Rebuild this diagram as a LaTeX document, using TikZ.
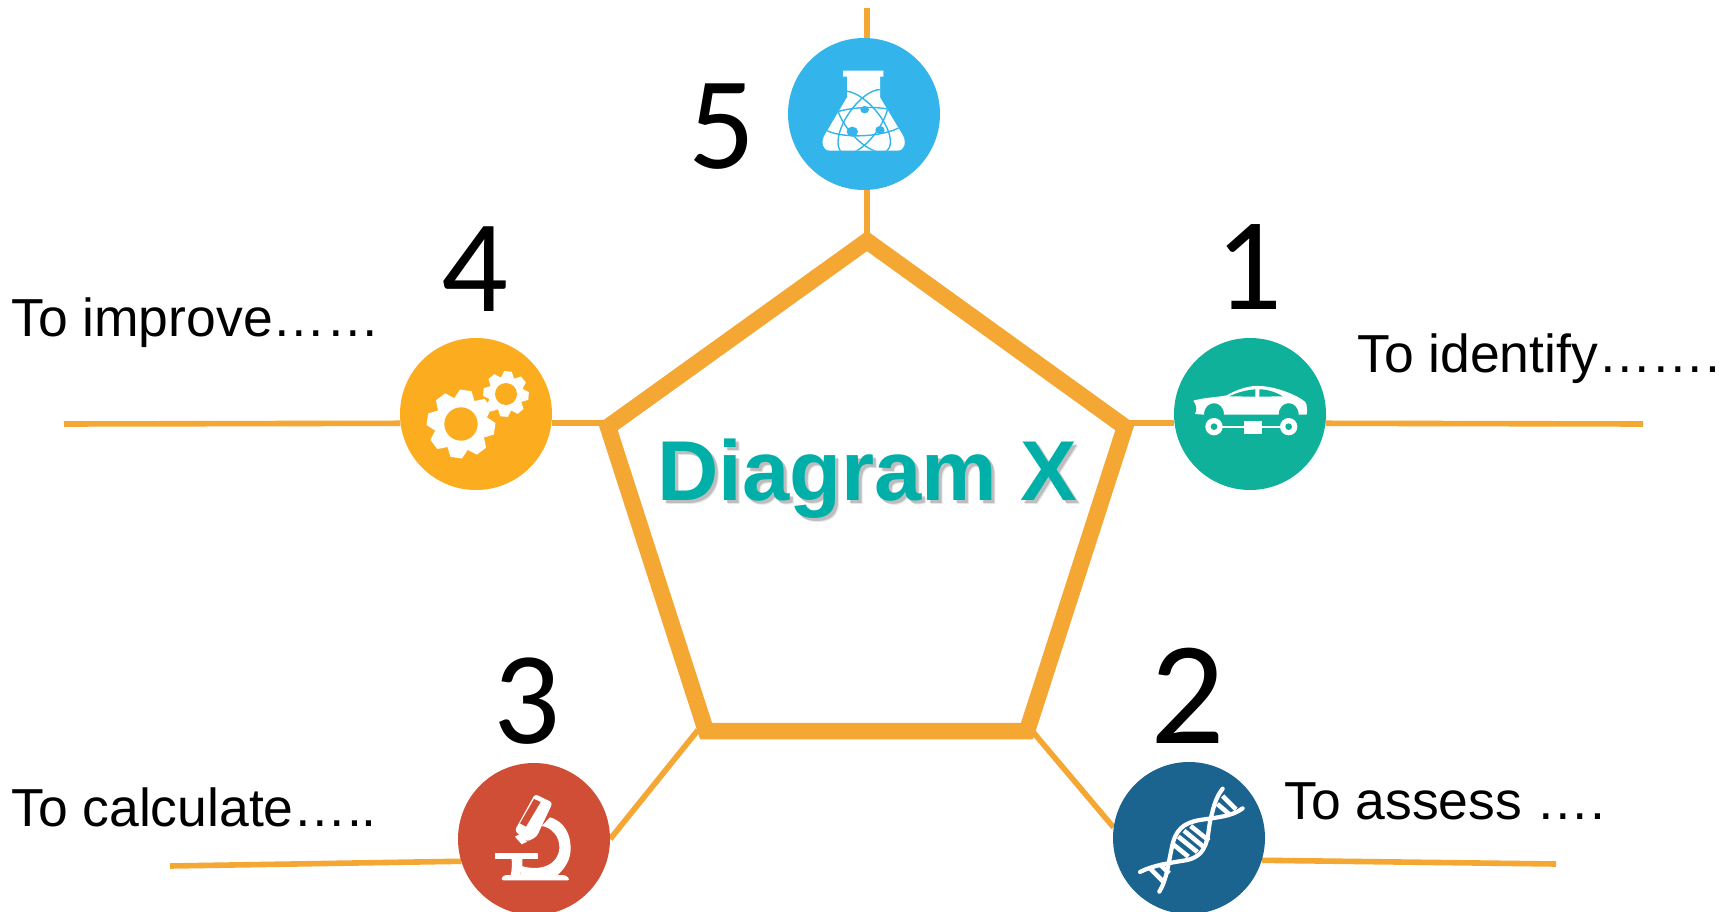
\documentclass[tikz,border=0pt]{standalone}
\usepackage{fontspec}
\setmainfont{Liberation Sans}
\newfontfamily\numfont{Carlito}
\usetikzlibrary{backgrounds}
\definecolor{lineorange}{HTML}{F5A733}
\definecolor{flaskblue}{HTML}{33B5EB}
\definecolor{cargreen}{HTML}{10B19A}
\definecolor{gearorange}{HTML}{FBAC1F}
\definecolor{microred}{HTML}{D04E36}
\definecolor{dnablue}{HTML}{1B648F}
\definecolor{titleteal}{HTML}{00B0A8}
\newcommand{\mygear}[7]{%
  \fill[white] (#1,#2) circle (#3);
  \foreach \k in {0,...,7}{
    \fill[white,shift={(#1,#2)},rotate=-#6-45*\k]
      (#3-6,-#4*0.30) -- (#4,-#4*0.17) -- (#4,#4*0.17) -- (#3-6,#4*0.30) -- cycle;
  }
  \fill[#7] (#1,#2) circle (#5);
}
\tikzset{
  x=1pt,y=-1pt,
  badge/.style={circle,minimum size=152pt,inner sep=0pt,fill=#1},
  conn/.style={draw=lineorange,line width=5.6pt},
  penta/.style={draw=lineorange,line width=16.5pt,line join=miter,miter limit=10},
  numlabel/.style={anchor=base,inner sep=0pt,text=black},
  textlabel/.style={anchor=base west,inner sep=0pt,text=black,font=\fontsize{53.5}{60}\selectfont},
  titletext/.style={anchor=base west,inner sep=0pt,font=\fontsize{85}{90}\selectfont\bfseries},
  orbit/.style={draw=flaskblue,line width=1.4pt},
  dnastrand/.style={draw=white,line width=4.2pt,line cap=round},
  dnarung/.style={draw=white,line width=4.6pt},
}
\begin{document}
\begin{tikzpicture}
\useasboundingbox (0,0) rectangle (1735,912);
% named points
\coordinate (v1) at (867,241);
\coordinate (v2) at (1125,427);
\coordinate (v3) at (1027,731);
\coordinate (v4) at (706,731);
\coordinate (v5) at (608,427);
\coordinate (t5) at (867,8);
\coordinate (e1) at (1643,424);
\coordinate (e4) at (64,424);
\coordinate (e2) at (1556,864);
\coordinate (e3) at (170,866);
\coordinate (d3) at (698,730);
\coordinate (d2) at (1033,732);
% badges
\node[badge=cargreen] (c1) at (1250,414) {};
\node[badge=dnablue] (c2) at (1189,838) {};
\node[badge=microred] (c3) at (534,839) {};
\node[badge=gearorange] (c4) at (476,414) {};
\node[badge=flaskblue] (c5) at (864,114) {};
% connectors
\begin{scope}[on background layer]
\draw[conn] (t5) -- (v1);
\draw[conn] (e1) -- (c1.-7.6);
\draw[conn] (c1.187.6) -- (v2 |- c1.187.6);
\draw[conn] (e4) -- (c4.187.6);
\draw[conn] (c4.-7.6) -- (v5 |- c4.-7.6);
\draw[conn] (e3) -- (c3.197);
\draw[conn] (d3) -- (c3.east);
\draw[conn] (e2) -- (c2.-17);
\draw[conn] (d2) -- (c2.172);
\end{scope}
\draw[penta] (v1) -- (v2) -- (v3) -- (v4) -- (v5) -- cycle;
% title
\node[titletext,text=black!50,opacity=.2] at (661,504) {Diagram X};
\node[titletext,text=black!50,opacity=.4] at (660,503) {Diagram X};
\node[titletext,text=titleteal] (title) at (657,500) {Diagram X};
% numbers
\node[numlabel,font=\fontsize{132}{140}\numfont] (n5) at (722,169) {5};
\node[numlabel,font=\fontsize{132}{140}\numfont] (n4) at (475,311) {4};
\node[numlabel,font=\fontsize{132}{140}\numfont] (n1) at (1249,309) {1};
\node[numlabel,font=\fontsize{132}{140}\numfont] (n3) at (527,743) {3};
\node[numlabel,font=\fontsize{147}{150}\numfont] (n2) at (1188,743) {2};
% labels
\node[textlabel] (l1) at (1357,372) {To identify…….};
\node[textlabel] (l4) at (11,336) {To improve……};
\node[textlabel] (l3) at (11,826) {To calculate…..};
\node[textlabel] (l2) at (1284,819) {To assess ….};
% flask icon
\begin{scope}[shift={(760,0)},scale=1/3]
\def\flaskpath{(249,212) -- (370,212) -- (370,230) -- (360,230) -- (360,292) -- (428,405) .. controls (440,425) and (435,452) .. (412,452) -- (210,452) .. controls (187,452) and (182,425) .. (194,405) -- (261,292) -- (261,230) -- (249,230) -- cycle}
\fill[white] \flaskpath;
\begin{scope}
\clip \flaskpath;
\draw[orbit] (310,365) ellipse [x radius=128,y radius=42,rotate=3];
\draw[orbit] (310,365) ellipse [x radius=112,y radius=50,rotate=-50];
\draw[orbit] (310,365) ellipse [x radius=112,y radius=50,rotate=55];
\end{scope}
\fill[flaskblue] (314,329) ellipse [x radius=13,y radius=11];
\fill[flaskblue] (277,395) ellipse [x radius=17,y radius=15];
\fill[flaskblue] (360,390) ellipse [x radius=14,y radius=12];
\end{scope}
% car icon
\begin{scope}[shift={(1150,310)},scale=1/3]
\fill[white] (130,272) .. controls (165,262) and (200,262) .. (230,256)
  .. controls (265,236) and (300,226) .. (330,228)
  .. controls (380,230) and (440,255) .. (465,275)
  .. controls (472,285) and (472,300) .. (470,314) -- (446,314)
  .. controls (446,268) and (386,268) .. (386,314) -- (222,314)
  .. controls (222,268) and (162,268) .. (162,314) -- (135,312)
  .. controls (142,300) and (140,285) .. (130,272) -- cycle;
\fill[cargreen] (238,259) .. controls (265,246) and (290,240) .. (316,238) -- (316,260) -- cycle;
\fill[cargreen] (328,238) .. controls (355,238) and (380,248) .. (398,259) -- (328,260) -- cycle;
\draw[white,line width=2.2pt] (192,350) -- (416,350);
\fill[white] (283,332) rectangle (337,371);
\fill[white] (192,350) circle (26);
\fill[white] (416,350) circle (26);
\fill[cargreen] (192,350) circle (10);
\fill[cargreen] (416,350) circle (10);
\end{scope}
% gear icon
\begin{scope}[shift={(380,320)},scale=1/3]
\mygear{243}{312}{80}{102}{50}{8}{gearorange}
\mygear{378}{222}{52}{68}{33}{5}{gearorange}
\end{scope}
% microscope icon
\begin{scope}[shift={(440,740)},scale=1/3]
\fill[white,rounded corners=3pt] (182,421) -- (190,405) -- (378,405) -- (391,421) -- cycle;
\fill[white] (164,340) rectangle (295,357);
\fill[white] (215,357) -- (247,357) -- (247,378) -- (240,405) -- (212,405) .. controls (216,390) and (216,375) .. (215,357) -- cycle;
\fill[white] (330,232) .. controls (375,245) and (392,285) .. (392,325)
  .. controls (392,360) and (375,385) .. (350,408) -- (240,408) -- (245,378)
  .. controls (300,395) and (355,375) .. (358,325)
  .. controls (360,290) and (335,262) .. (305,258) -- cycle;
\fill[white,rounded corners=3pt] (285,162) -- (338,188) -- (290,290) -- (262,305) -- (224,272) -- cycle;
\fill[white] (225,290) -- (245,313) -- (262,305) -- (240,282) -- cycle;
\fill[microred] (282,177) -- (302,186) -- (258,260) -- (240,250) -- cycle;
\end{scope}
% DNA icon
\begin{scope}[shift={(1100,740)},scale=1/3]
\foreach \a/\b/\c/\d in {
  368/168/408/208, 352/192/392/226,
  272/258/327/302, 252/272/310/320, 235/290/292/336, 222/315/265/350,
  178/372/208/400, 150/385/190/425}{
  \draw[dnarung] (\a,\b) -- (\c,\d);
}
\draw[dnastrand] (368,146) .. controls (345,175) and (340,205) .. (330,245)
  .. controls (322,290) and (325,345) .. (262,360)
  .. controls (215,368) and (160,375) .. (120,396);
\draw[dnastrand] (428,205) .. controls (395,230) and (350,232) .. (300,240)
  .. controls (250,248) and (225,270) .. (215,325)
  .. controls (205,370) and (200,420) .. (178,455);
\end{scope}
\end{tikzpicture}
\end{document}
